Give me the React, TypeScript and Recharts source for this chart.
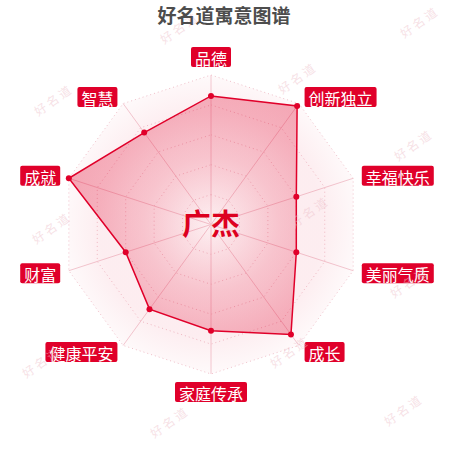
import React from "react";
import { RadarChart, Radar, PolarGrid, PolarAngleAxis, PolarRadiusAxis } from "recharts";

// 寓意维度（顺时针，从正上方开始）
const aspects = ["品德", "创新独立", "幸福快乐", "美丽气质", "成长", "家庭传承", "健康平安", "财富", "成就", "智慧"];
const scores = [86, 98, 60, 60, 91, 71, 70, 60, 100, 76];
const fullScores = [100, 100, 100, 100, 100, 100, 100, 100, 100, 100];
const title = "好名道寓意图谱";
const personName = "广杰";

const W = 450;
const H = 450;
const CX = 211;
const CY = 224.5;
const R = 149.5;
const RED = "#e0002a";

// watermark spots (decoration only)
const marks: [number, number][] = [
  [178, 28], [418, 22], [296, 78], [52, 100], [412, 145], [50, 228],
  [308, 212], [408, 282], [40, 362], [288, 352], [168, 422], [402, 410],
];

const data = aspects.map((a, i) => ({ aspect: a, score: scores[i], full: fullScores[i] }));

function LabelTick(props: any) {
  const { x, y, payload, textAnchor } = props;
  const label = String(payload.value);
  const w = label.length * 16 + 8;
  const h = 20;
  let bx = x - w / 2;
  if (textAnchor === "start") bx = x + 1;
  else if (textAnchor === "end") bx = x - w - 1;
  let by = y - h / 2;
  if (textAnchor === "middle") by = y < CY ? y - h : y;
  return (
    <g>
      <rect x={bx} y={by} width={w} height={h} rx={2} fill={RED} />
      <text
        x={bx + w / 2}
        y={by + h / 2 + 1}
        textAnchor="middle"
        dominantBaseline="central"
        fill="#ffffff"
        fontSize={16}
        fontFamily="'Noto Sans CJK SC', sans-serif"
      >
        {label}
      </text>
    </g>
  );
}

export default function App() {
  return (
    <div style={{ position: "absolute", left: 0, top: 0, width: W, height: H, background: "#fff" }}>
      <div style={{ position: "absolute", left: 0, top: 0 }}>
        <RadarChart
          width={W}
          height={H}
          data={data}
          cx={CX}
          cy={CY}
          outerRadius={R}
          startAngle={90}
          endAngle={-270}
          margin={{ top: 0, right: 0, bottom: 0, left: 0 }}
        >
          <defs>
            <radialGradient id="bgGrad" gradientUnits="userSpaceOnUse" cx={CX} cy={CY} r={R}>
              <stop offset="0%" stopColor={RED} stopOpacity={0} />
              <stop offset="45%" stopColor={RED} stopOpacity={0.07} />
              <stop offset="75%" stopColor={RED} stopOpacity={0.07} />
              <stop offset="100%" stopColor={RED} stopOpacity={0.02} />
            </radialGradient>
            <radialGradient id="dataGrad" gradientUnits="userSpaceOnUse" cx={CX} cy={CY} r={R}>
              <stop offset="0%" stopColor={RED} stopOpacity={0.06} />
              <stop offset="55%" stopColor={RED} stopOpacity={0.2} />
              <stop offset="100%" stopColor={RED} stopOpacity={0.34} />
            </radialGradient>
          </defs>
          <PolarRadiusAxis domain={[0, 100]} tick={false} axisLine={false} tickCount={6} />
          <Radar dataKey="full" stroke="none" fill="url(#bgGrad)" fillOpacity={1} isAnimationActive={false} />
          <PolarGrid
            gridType="polygon"
            radialLines={false}
            polarRadius={[R * 0.2, R * 0.4, R * 0.6, R * 0.8, R]}
            stroke="#f0c3cc"
            strokeDasharray="1 3"
          />
          <PolarGrid gridType="polygon" polarRadius={[0.1]} stroke="#f3ccd4" />
          <PolarAngleAxis dataKey="aspect" tick={<LabelTick />} tickLine={false} axisLine={false} />
          <Radar
            dataKey="score"
            stroke={RED}
            strokeWidth={1.5}
            fill="url(#dataGrad)"
            fillOpacity={1}
            dot={{ r: 3, fill: RED, stroke: RED, strokeWidth: 0 }}
            isAnimationActive={false}
          />
        </RadarChart>
      </div>
      <svg width={W} height={H} style={{ position: "absolute", left: 0, top: 0, pointerEvents: "none" }}>
        {marks.map(([mx, my], i) => (
          <text
            key={i}
            x={mx}
            y={my}
            textAnchor="middle"
            dominantBaseline="central"
            transform={`rotate(-35 ${mx} ${my})`}
            fill="#eec3cc"
            fillOpacity={0.5}
            fontSize={12}
            fontFamily="'Noto Sans CJK SC', sans-serif"
          >
            好 名 道
          </text>
        ))}
        <text
          x={224}
          y={14}
          textAnchor="middle"
          dominantBaseline="central"
          fill="#4d4d4d"
          fontSize={19}
          fontWeight="bold"
          fontFamily="'Noto Sans CJK SC', sans-serif"
        >
          {title}
        </text>
        <text
          x={CX}
          y={222}
          textAnchor="middle"
          dominantBaseline="central"
          fill="#dd0020"
          fontSize={29}
          fontWeight="bold"
          fontFamily="'Noto Sans CJK SC', sans-serif"
        >
          {personName}
        </text>
      </svg>
    </div>
  );
}
